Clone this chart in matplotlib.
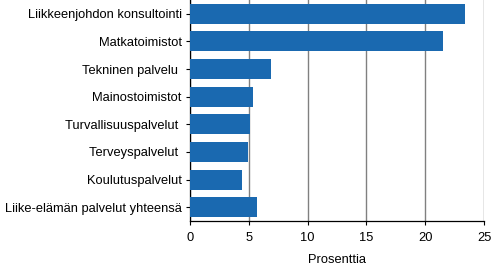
import matplotlib
matplotlib.use("Agg")
import matplotlib.pyplot as plt

categories = ["Liikkeenjohdon konsultointi", "Matkatoimistot", "Tekninen palvelu ",
              "Mainostoimistot", "Turvallisuuspalvelut ", "Terveyspalvelut ",
              "Koulutuspalvelut", "Liike-elämän palvelut yhteensä"]
values = [23.4, 21.5, 6.9, 5.4, 5.1, 4.9, 4.4, 5.7]
xticks = [0, 5, 10, 15, 20, 25]

plt.rcParams['font.family'] = ['Liberation Sans', 'DejaVu Sans']
fs = 9.3
fig = plt.figure(figsize=(4.92, 2.65), dpi=100)
ax = fig.add_axes([0.386, 0.166, 0.598, 0.834])

y = list(range(len(categories)))
ax.barh(y, values, height=0.72, color="#1a69b0", zorder=3)
ax.set_ylim(len(categories) - 0.5, -0.5)
ax.set_xlim(0, 25)
ax.set_xticks(xticks)
ax.set_yticks(y)
ax.set_yticklabels(categories, fontsize=fs)
ax.tick_params(axis='x', labelsize=fs, length=3, width=0.8, pad=5)
ax.tick_params(axis='y', length=3, width=0.8, pad=3)
ax.grid(axis='x', color="#808080", linewidth=1.0, zorder=0)
for s in ["top", "right"]:
    ax.spines[s].set_visible(False)
ax.spines["left"].set_linewidth(0.9)
ax.spines["bottom"].set_linewidth(0.9)
ax.set_xlabel("Prosenttia", fontsize=fs, labelpad=7)

fig.savefig("out.png", dpi=100)
